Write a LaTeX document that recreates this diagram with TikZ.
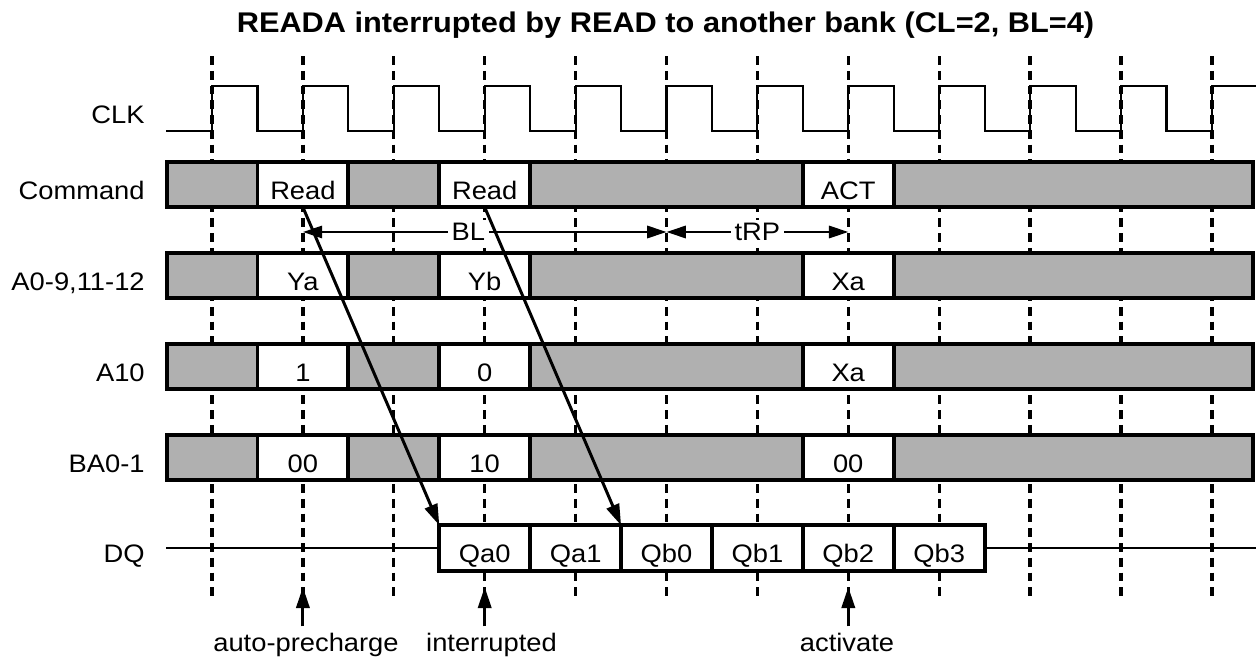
\documentclass[tikz,border=0pt]{standalone}
\usepackage{fontspec}
\setmainfont{Liberation Sans}[FakeStretch=1.08]
\usepackage{xcolor}
\usepackage{tikz}
\usetikzlibrary{arrows.meta}

\begin{document}
\begin{tikzpicture}[x=0.02cm,y=-0.02cm,
  txt/.style={font=\fontsize{14.4}{17}\selectfont, text height=16.6pt, text depth=0pt},
  seg/.style={txt, draw=black, line width=2.2pt, minimum height=0.91cm, minimum width=1.818cm, inner sep=0pt, outer sep=0pt, anchor=west},
  idle/.style={seg, fill=black!31},
  data/.style={seg, fill=white},
  edgeline/.style={line width=1.9pt, dash pattern=on 5pt off 3.4pt},
  clk/.style={line width=1.2pt},
  wire/.style={line width=1.2pt},
  dimarrow/.style={line width=1.3pt, {Triangle[length=11pt,width=7pt]}-{Triangle[length=11pt,width=7pt]}},
  rdarrow/.style={line width=1.7pt, -{Triangle[length=12pt,width=7.5pt]}},
  uparrow/.style={line width=1.8pt, -{Triangle[length=12pt,width=7.5pt]}}]

\useasboundingbox (0,0) rectangle (1256,659);

%% title
\node[font=\fontsize{16.2}{19}\selectfont\bfseries, anchor=base] (title) at (665.5,32) {READA interrupted by READ to another bank (CL=2, BL=4)};

%% clock edges
\foreach \k in {0,...,11}
  \draw[edgeline] ({212+90.9*\k},56) -- ({212+90.9*\k},597);

%% clock
\draw[clk] (166,131) \foreach \k in {0,...,10} { -- ({212+90.9*\k},131) -- ({212+90.9*\k},86) -- ({257.45+90.9*\k},86) -- ({257.45+90.9*\k},131) } -- (1211.9,131) -- (1211.9,86) -- (1256,86);

%% row labels
\node[txt, anchor=east, inner sep=0pt] (lclk) at (145,108.5) {CLK};
\node[txt, anchor=east, inner sep=0pt] (lcmd) at (145,184.5) {Command};
\node[txt, anchor=east, inner sep=0pt] (ladr) at (145,275.5) {A0-9,11-12};
\node[txt, anchor=east, inner sep=0pt] (laten) at (145,366.5) {A10};
\node[txt, anchor=east, inner sep=0pt] (lba) at (145,457.5) {BA0-1};
\node[txt, anchor=east, inner sep=0pt] (ldq) at (145,548) {DQ};

%% command
\node[idle] (cmd1) at (166.6,184.5) {};
\node[data] (cmd2) at (cmd1.east) {Read};
\node[idle] (cmd3) at (cmd2.east) {};
\node[data] (cmd4) at (cmd3.east) {Read};
\node[idle, minimum width=5.454cm] (cmd5) at (cmd4.east) {};
\node[data] (cmd6) at (cmd5.east) {ACT};
\node[idle, minimum width=7.184cm] (cmd7) at (cmd6.east) {};

%% address
\node[idle] (adr1) at (166.6,275.5) {};
\node[data] (adr2) at (adr1.east) {Ya};
\node[idle] (adr3) at (adr2.east) {};
\node[data] (adr4) at (adr3.east) {Yb};
\node[idle, minimum width=5.454cm] (adr5) at (adr4.east) {};
\node[data] (adr6) at (adr5.east) {Xa};
\node[idle, minimum width=7.184cm] (adr7) at (adr6.east) {};

%% A10
\node[idle] (aten1) at (166.6,366.5) {};
\node[data] (aten2) at (aten1.east) {1};
\node[idle] (aten3) at (aten2.east) {};
\node[data] (aten4) at (aten3.east) {0};
\node[idle, minimum width=5.454cm] (aten5) at (aten4.east) {};
\node[data] (aten6) at (aten5.east) {Xa};
\node[idle, minimum width=7.184cm] (aten7) at (aten6.east) {};

%% bank
\node[idle] (ba1) at (166.6,457.5) {};
\node[data] (ba2) at (ba1.east) {00};
\node[idle] (ba3) at (ba2.east) {};
\node[data] (ba4) at (ba3.east) {10};
\node[idle, minimum width=5.454cm] (ba5) at (ba4.east) {};
\node[data] (ba6) at (ba5.east) {00};
\node[idle, minimum width=7.184cm] (ba7) at (ba6.east) {};

%% data out
\node[data] (q0) at (439.3,548) {Qa0};
\node[data] (q1) at (q0.east) {Qa1};
\node[data] (q2) at (q1.east) {Qb0};
\node[data] (q3) at (q2.east) {Qb1};
\node[data] (q4) at (q3.east) {Qb2};
\node[data] (q5) at (q4.east) {Qb3};
\coordinate (dqL) at (166,548);
\coordinate (dqR) at (1256,548);
\draw[wire] (dqL) -- (q0.west);
\draw[wire] (q5.east) -- (dqR);

%% BL and tRP
\coordinate (blL) at (302.9,232);
\coordinate (blR) at (666.5,232);
\coordinate (trpR) at (848.3,232);
\draw[dimarrow] (blL) -- node[pos=.455, fill=white, inner sep=2pt, font=\fontsize{14.4}{17}\selectfont] (bl) {BL} (blR);
\draw[dimarrow] (blR) -- node[fill=white, inner sep=2pt, font=\fontsize{14.4}{17}\selectfont] (trp) {tRP} (trpR);

%% read to data
\draw[rdarrow] (cmd2.south) -- (q0.north west);
\draw[rdarrow] (cmd4.south) -- (q2.north west);

%% notes
\node[font=\fontsize{14.4}{17}\selectfont, anchor=base] (apc) at (306,651) {auto-precharge};
\node[font=\fontsize{14.4}{17}\selectfont, anchor=base] (intr) at (491.5,651) {interrupted};
\node[font=\fontsize{14.4}{17}\selectfont, anchor=base] (act) at (847,651) {activate};
\coordinate (apcT) at (302.9,587);
\coordinate (intrT) at (484.7,587);
\coordinate (actT) at (848.3,587);
\draw[uparrow] (apc.north -| apcT) -- (apcT);
\draw[uparrow] (intr.north -| intrT) -- (intrT);
\draw[uparrow] (act.north -| actT) -- (actT);

\end{tikzpicture}
\end{document}
